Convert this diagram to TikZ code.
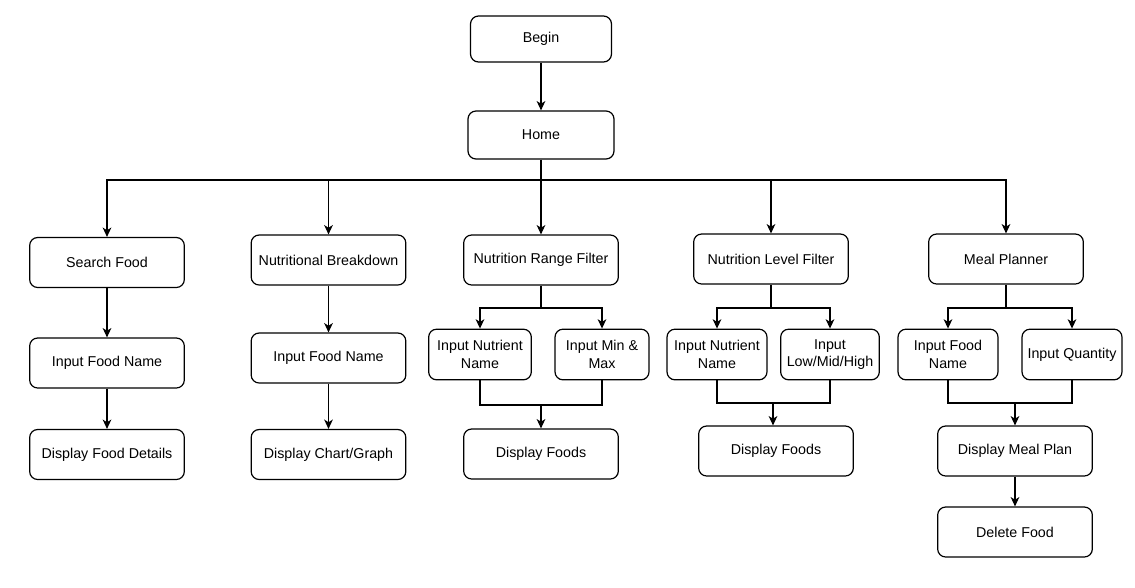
\documentclass[tikz,border=0pt]{standalone}
\usepackage{fontspec}
\setmainfont{Liberation Sans}
\usetikzlibrary{arrows.meta, positioning}

\begin{document}
\begin{tikzpicture}[x=0.75pt, y=-0.75pt]
    % Styles
    \tikzstyle{box} = [rectangle, rounded corners=6pt, minimum width=116pt, minimum height=37.5pt, inner sep=0pt, align=center, draw=black, line width=0.9pt, font=\fontsize{10.7}{13.3}\selectfont]
    \tikzstyle{small} = [box, minimum width=75pt, minimum height=38pt]
    \tikzstyle{link} = [line width=0.9pt]
    \tikzstyle{arrow} = [link, -{Stealth[length=7pt, width=6.5pt, inset=2pt]}]

    \useasboundingbox (0,0) rectangle (1135,587);

    % Nodes
    \node (begin) [box, minimum width=105.75pt, minimum height=34.5pt] at (541,39) {Begin};
    \node (home) [box, minimum width=109.5pt, minimum height=36pt] at (541,135) {Home};
    \coordinate (bus) at (541,180);

    \node (search) [box] at (107,262.5) {Search Food};
    \node (searchin) [box] at (107,363) {Input Food Name};
    \node (searchout) [box] at (107,454.5) {Display Food Details};

    \node (breakdown) [box] at (328.5,260) {Nutritional Breakdown};
    \node (breakin) [box] at (328.5,358) {Input Food Name};
    \node (breakout) [box] at (328.5,454.5) {Display Chart/Graph};

    \node (range) [box] at (541,260) {Nutrition Range Filter};
    \coordinate (rsplit) at (541,308);
    \node (rname) [small, minimum width=77pt] at (480,354.5) {Input Nutrient\\Name};
    \node (rminmax) [small, minimum width=70.5pt] at (602,354.5) {Input Min \&\\Max};
    \coordinate (rmerge) at (541,405);
    \node (rdisp) [box] at (541,454) {Display Foods};

    \node (level) [box] at (771,259) {Nutrition Level Filter};
    \coordinate (lsplit) at (771,308);
    \node (lname) [small] at (717,354.5) {Input Nutrient\\Name};
    \node (llevel) [small, minimum width=74pt] at (830,354.5) {Input\\Low/Mid/High};
    \coordinate (lmerge) at (773,403);
    \node (ldisp) [box] at (776,451) {Display Foods};

    \node (meal) [box] at (1006,259) {Meal Planner};
    \coordinate (msplit) at (1006,308);
    \node (mname) [small] at (948,354.5) {Input Food\\Name};
    \node (mqty) [small] at (1072,354.5) {Input Quantity};
    \coordinate (mmerge) at (1015,403);
    \node (mplan) [box] at (1015,451) {Display Meal Plan};
    \node (mdelete) [box] at (1015,532) {Delete Food};

    % Arrows
    \draw [arrow] (begin) -- (home);
    \draw [link] (home) -- (bus);
    \draw [arrow] (bus) -| (search);
    \draw [arrow] (bus) -| (breakdown);
    \draw [arrow] (bus) -- (range);
    \draw [arrow] (bus) -| (level);
    \draw [arrow] (bus) -| (meal);

    \draw [arrow] (search) -- (searchin);
    \draw [arrow] (searchin) -- (searchout);

    \draw [arrow] (breakdown) -- (breakin);
    \draw [arrow] (breakin) -- (breakout);

    \draw [link] (range) -- (rsplit);
    \draw [arrow] (rsplit) -| (rname);
    \draw [arrow] (rsplit) -| (rminmax);
    \draw [link] (rname) |- (rmerge) -| (rminmax);
    \draw [arrow] (rmerge) -- (rdisp);

    \draw [link] (level) -- (lsplit);
    \draw [arrow] (lsplit) -| (lname);
    \draw [arrow] (lsplit) -| (llevel);
    \draw [link] (lname) |- (lmerge) -| (llevel);
    \draw [arrow] (lmerge) -- (lmerge |- ldisp.north);

    \draw [link] (meal) -- (msplit);
    \draw [arrow] (msplit) -| (mname);
    \draw [arrow] (msplit) -| (mqty);
    \draw [link] (mname) |- (mmerge) -| (mqty);
    \draw [arrow] (mmerge) -- (mplan);
    \draw [arrow] (mplan) -- (mdelete);
\end{tikzpicture}
\end{document}
